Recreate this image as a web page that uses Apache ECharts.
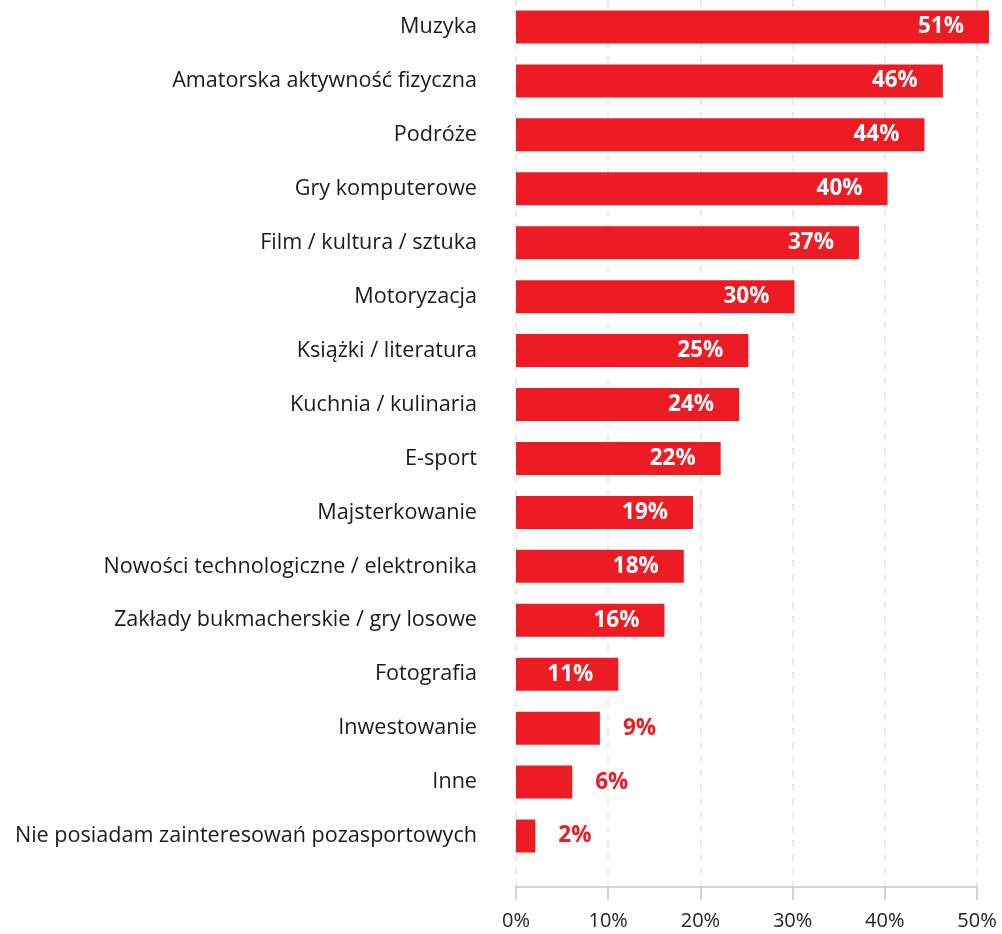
<!DOCTYPE html>
<html><head><meta charset="utf-8">
<script src="https://cdn.jsdelivr.net/npm/echarts@6/dist/echarts.min.js"></script>
<style>html,body{margin:0;padding:0;background:#fff}#c{width:1002px;height:934px}</style>
</head><body><div id="c"></div>
<script>
const categories = ["Muzyka","Amatorska aktywność fizyczna","Podróże","Gry komputerowe","Film / kultura / sztuka","Motoryzacja","Książki / literatura","Kuchnia / kulinaria","E-sport","Majsterkowanie","Nowości technologiczne / elektronika","Zakłady bukmacherskie / gry losowe","Fotografia","Inwestowanie","Inne","Nie posiadam zainteresowań pozasportowych"];
const values = [51.3,46.3,44.3,40.3,37.2,30.2,25.2,24.2,22.2,19.2,18.2,16.1,11.1,9.1,6.1,2.1];
const xTicks = [0,10,20,30,40,50];

const RED = '#ED1C24';
const FONT = '"Open Sans", "Noto Sans", sans-serif';
const data = values.map(v => {
  const inside = v >= 10;
  return {
    value: v,
    label: inside
      ? {position: 'insideRight', distance: 25, color: '#fff'}
      : {position: 'right', distance: 23, color: RED}
  };
});

const chart = echarts.init(document.getElementById('c'));
chart.setOption({
  animation: false,
  grid: [
    {left: 516, right: 25, top: 0, bottom: 71},
    {left: 516, right: 25, top: 0, bottom: 47}
  ],
  xAxis: [
    {gridIndex: 0, type: 'value', min: xTicks[0], max: xTicks[xTicks.length-1], interval: 10, show: false},
    {gridIndex: 1, type: 'value', min: xTicks[0], max: xTicks[xTicks.length-1], interval: 10,
     axisLine: {show: true, lineStyle: {color: '#c8c8c8', width: 1.5}},
     axisTick: {show: true, length: 13, lineStyle: {color: '#c8c8c8', width: 1.5}},
     splitLine: {show: true, lineStyle: {color: '#e4e4e4', type: [7, 7], width: 1.5}},
     axisLabel: {formatter: '{value}%', fontSize: 20, color: '#222', fontFamily: FONT, margin: 24}}
  ],
  yAxis: [
    {gridIndex: 0, type: 'category', data: categories, inverse: true,
     axisLine: {show: false}, axisTick: {show: false}, splitLine: {show: false},
     axisLabel: {fontSize: 21.6, color: '#1a1a1a', fontFamily: FONT, margin: 39,
       padding: [3, 0, 0, 0]}},
    {gridIndex: 1, type: 'category', data: categories, show: false}
  ],
  series: [{
    type: 'bar', xAxisIndex: 0, yAxisIndex: 0, data: data, clip: false,
    barWidth: 33, itemStyle: {color: RED},
    label: {show: true, fontSize: 22.5, fontWeight: 'bold', fontFamily: FONT,
      formatter: p => Math.round(p.value) + '%'}
  }]
});
</script></body></html>
